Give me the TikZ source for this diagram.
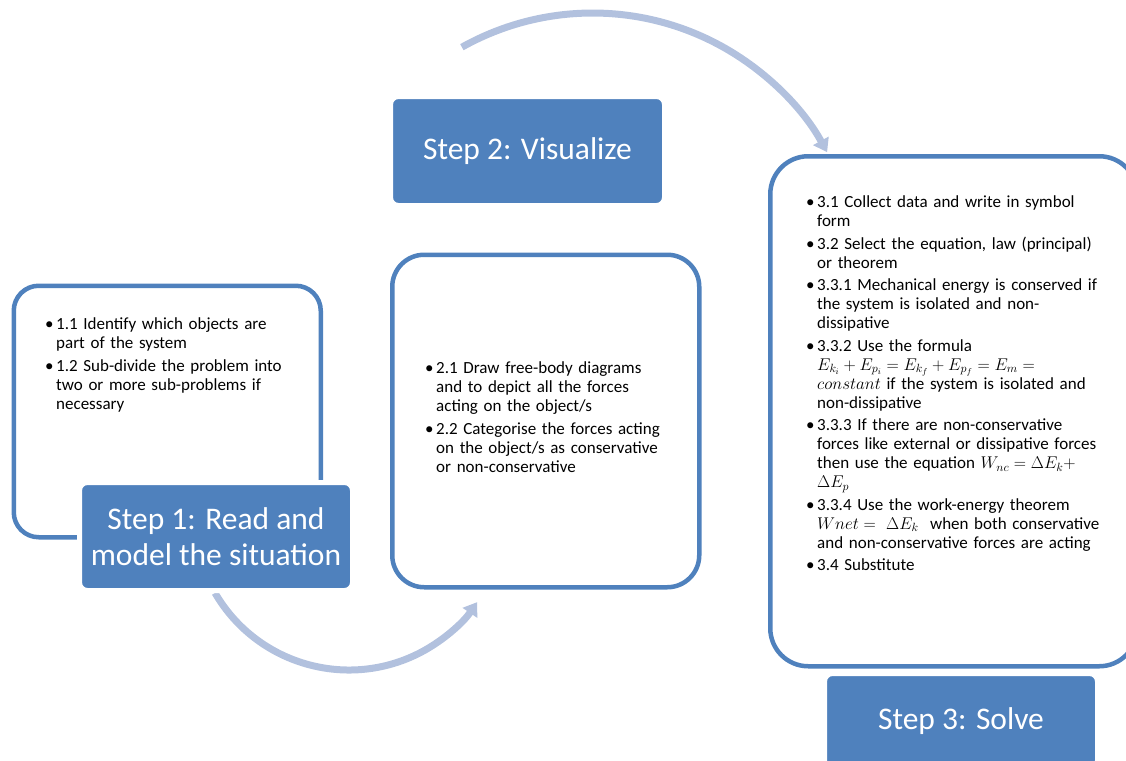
\RequirePackage{fix-cm}
\documentclass[tikz,border=0pt]{standalone}
\usepackage{fontspec}
\setmainfont{Carlito}
\usetikzlibrary{arrows.meta}
\definecolor{accent}{RGB}{79,129,189}
\definecolor{arrowc}{RGB}{178,193,222}
\newcommand{\bul}{\par\hangindent=11pt\hangafter=1\noindent\makebox[11pt][l]{\textbullet}}
\tikzset{
  textbox/.style={draw=accent, line width=4.5pt, rounded corners=#1, fill=white, inner sep=0pt, anchor=north west},
  steplabel/.style={fill=accent, draw=white, line width=5pt, rounded corners=8pt, text=white,
    font=\fontsize{31.5}{36}\selectfont, align=center, inner sep=0pt},
  bodytext/.style={anchor=base west, text width=#1, inner sep=0pt,
    font=\fontsize{17}{19}\selectfont},
  cyc/.style={draw=arrowc, line width=7pt, -{Triangle[width=17pt,length=13pt]}}
}
\begin{document}
\begin{tikzpicture}[x=1pt,y=-1pt]
\useasboundingbox (0,0) rectangle (1126,760);
% cycle arrows
\coordinate (c1) at (349,515);
\coordinate (c2) at (592.6,280.1);
\draw[cyc] (c1) ++(149.8:155) arc[start angle=149.8, end angle=34.2, radius=155];
\draw[cyc] (c2) ++(-119.3:267.1) arc[start angle=-119.3, end angle=-28.6, radius=267.1];
% text boxes
\node[textbox=25pt, minimum width=307pt, minimum height=251.5pt] (b1) at (11.5,283.5) {};
\node[textbox=32pt, minimum width=307pt, minimum height=332.5pt] (b2) at (390,252.5) {};
\node[textbox=38pt, minimum width=367pt, minimum height=510pt] (b3) at (768,154) {};
% step labels
\node[steplabel, minimum width=273pt, minimum height=108pt] (s1) at (216,536.5) {Step 1: Read and\\model the situation};
\node[steplabel, minimum width=274pt, minimum height=109pt] (s2) at (527.5,151) {Step 2: Visualize};
\node[steplabel, minimum width=273pt, minimum height=95pt] (s3) at (961,721) {Step 3: Solve};
% body texts
\node[bodytext=270pt] (t1) at (45,307) {\raggedright\setlength{\parskip}{3.5pt}%
\bul 1.1 Identify which objects are\newline part of the system
\bul 1.2 Sub-divide the problem into\newline two or more sub-problems if\newline necessary\par};
\node[bodytext=270pt] (t2) at (425,351) {\raggedright\setlength{\parskip}{3.5pt}%
\bul 2.1 Draw free-body diagrams\newline and to depict all the forces\newline acting on the object/s
\bul 2.2 Categorise the forces acting\newline on the object/s as conservative\newline or non-conservative\par};
\node[bodytext=320pt] (t3) at (806,185) {\raggedright\setlength{\parskip}{3.5pt}%
\bul 3.1 Collect data and write in symbol\newline form
\bul 3.2 Select the equation, law (principal)\newline or theorem
\bul 3.3.1 Mechanical energy is conserved if\newline the system is isolated and non-\newline dissipative
\bul 3.3.2 Use the formula\newline $E_{k_i}+E_{p_i}=E_{k_f}+E_{p_f}=E_m=$\newline $constant$ if the system is isolated and\newline non-dissipative
\bul 3.3.3 If there are non-conservative\newline forces like external or dissipative forces\newline then use the equation $W_{nc}=\Delta E_k+$\newline $\Delta E_p$
\bul 3.3.4 Use the work-energy theorem\newline $Wnet=\ \Delta E_k$\ \ when both conservative\newline and non-conservative forces are acting
\bul 3.4 Substitute\par};
\end{tikzpicture}
\end{document}
